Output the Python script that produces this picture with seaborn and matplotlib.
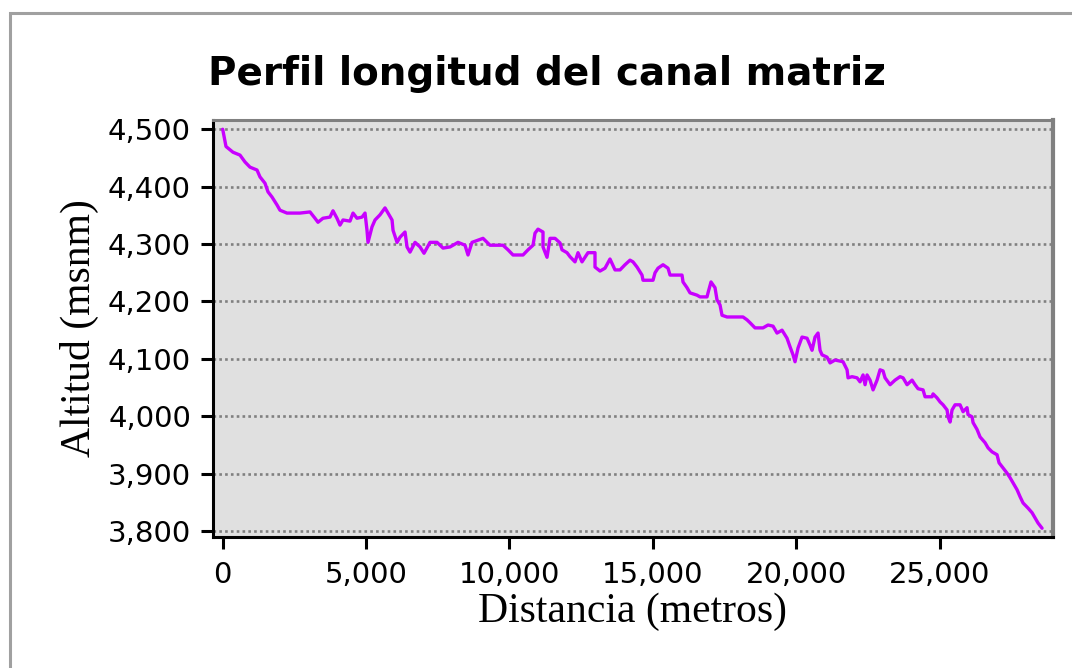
# Longitudinal profile of the main channel (altitude vs distance)
# -----------------------------------------------------------------------
import matplotlib
matplotlib.use('Agg')
import matplotlib.pyplot as plt
from matplotlib.patches import Rectangle
from matplotlib.ticker import FuncFormatter, MultipleLocator
import pandas as pd
import seaborn as sns

# -----------------------------------------------------------------------
# Data: distance (m) and altitude (m.s.n.m.)
dist = [0, 115, 359, 603, 778, 952, 1196, 1301, 1475, 1580,
        1719, 1896, 1998, 2241, 2695, 3044, 3218, 3323, 3497, 3741,
        3846, 3985, 4090, 4195, 4439, 4544, 4683, 4860, 4963, 5032,
        5067, 5207, 5312, 5486, 5660, 5765, 5905, 5940, 6079, 6184,
        6358, 6428, 6532, 6707, 6881, 7020, 7229, 7474, 7683, 7927,
        8206, 8450, 8554, 8694, 9077, 9321, 9774, 9949, 10123, 10472,
        10646, 10821, 10890, 10995, 11169, 11169, 11309, 11413, 11588, 11762,
        11832, 12006, 12111, 12285, 12390, 12529, 12738, 12982, 12982, 13157,
        13331, 13505, 13680, 13854, 14028, 14203, 14307, 14447, 14621, 14656,
        15005, 15075, 15179, 15354, 15528, 15598, 16016, 16051, 16191, 16295,
        16539, 16644, 16888, 16923, 17027, 17167, 17236, 17341, 17411, 17585,
        18143, 18283, 18387, 18562, 18841, 19015, 19190, 19329, 19504, 19678,
        19783, 19888, 19957, 20062, 20201, 20376, 20480, 20550, 20655, 20759,
        20829, 20899, 21073, 21178, 21352, 21631, 21771, 21806, 21945, 22120,
        22224, 22329, 22399, 22469, 22573, 22678, 22817, 22922, 23026, 23096,
        23271, 23445, 23619, 23724, 23863, 24038, 24142, 24247, 24421, 24491,
        24735, 24770, 24909, 25014, 25118, 25258, 25293, 25363, 25432, 25537,
        25711, 25816, 25955, 25990, 26130, 26165, 26304, 26409, 26583, 26688,
        26827, 27001, 27071, 27211, 27350, 27455, 27559, 27699, 27803, 27908,
        28082, 28222, 28327, 28431, 28571]
alt = [4500, 4470, 4460, 4455, 4443, 4434, 4429, 4417, 4406, 4391,
       4382, 4368, 4359, 4354, 4354, 4356, 4345, 4338, 4345, 4347,
       4358, 4345, 4333, 4342, 4340, 4354, 4345, 4347, 4354, 4324,
       4303, 4330, 4342, 4351, 4363, 4354, 4342, 4324, 4303, 4312,
       4321, 4295, 4286, 4303, 4295, 4284, 4303, 4303, 4293, 4295,
       4303, 4298, 4281, 4303, 4310, 4298, 4298, 4290, 4281, 4281,
       4290, 4298, 4319, 4326, 4321, 4295, 4277, 4310, 4310, 4302,
       4290, 4285, 4278, 4269, 4285, 4269, 4285, 4285, 4260, 4253,
       4258, 4274, 4255, 4255, 4264, 4272, 4269, 4260, 4246, 4237,
       4237, 4250, 4258, 4264, 4258, 4246, 4246, 4234, 4224, 4215,
       4211, 4208, 4208, 4215, 4234, 4224, 4203, 4194, 4176, 4173,
       4173, 4168, 4163, 4154, 4154, 4159, 4157, 4145, 4150, 4136,
       4121, 4107, 4095, 4119, 4138, 4136, 4124, 4115, 4138, 4145,
       4115, 4107, 4103, 4093, 4098, 4095, 4081, 4067, 4069, 4067,
       4060, 4072, 4055, 4072, 4063, 4046, 4063, 4081, 4079, 4067,
       4055, 4063, 4069, 4067, 4055, 4063, 4055, 4048, 4046, 4034,
       4034, 4039, 4032, 4025, 4020, 4011, 3999, 3990, 4011, 4020,
       4020, 4008, 4015, 4003, 3999, 3989, 3977, 3964, 3954, 3945,
       3938, 3933, 3919, 3910, 3901, 3893, 3884, 3872, 3860, 3849,
       3840, 3832, 3823, 3814, 3805]

title = 'Perfil longitud del canal matriz'
x_label = 'Distancia (metros)'
y_label = 'Altitud (msnm)'

profile = pd.DataFrame({'Distancia': dist, 'Altitud': alt})

# -----------------------------------------------------------------------
# Canvas
sns.set_theme(style='white')
plt.rcParams['font.family'] = ['DejaVu Sans']
plt.rcParams['text.color'] = 'black'
plt.rcParams['axes.labelcolor'] = 'black'
fig = plt.figure(figsize=(10.72, 6.68), dpi=100)
fig.patch.set_facecolor('white')
ax = fig.add_axes([0.1984, 0.1961, 0.7839, 0.6243])
ax.set_facecolor('#e0e0e0')

# Profile line
sns.lineplot(data=profile, x='Distancia', y='Altitud',
             estimator=None, sort=False,
             color='#c800ff', linewidth=2.4, ax=ax)

ax.set_xlim(-349, 28953)
ax.set_ylim(3789.7, 4516.2)
ax.xaxis.set_major_locator(MultipleLocator(5000))
ax.yaxis.set_major_locator(MultipleLocator(100))
thousands = FuncFormatter(lambda v, pos: f'{v:,.0f}')
ax.xaxis.set_major_formatter(thousands)
ax.yaxis.set_major_formatter(thousands)

# Dotted horizontal grid
ax.yaxis.grid(True, color='#808080', linewidth=1.9,
              linestyle=(0, (1.0, 1.2)))
ax.xaxis.grid(False)
ax.set_axisbelow(True)

# Spines: black left/bottom, gray top/right
for side in ['left', 'bottom']:
    ax.spines[side].set_color('black')
    ax.spines[side].set_linewidth(2.2)
ax.spines['top'].set_color('#808080')
ax.spines['top'].set_linewidth(2.2)
ax.spines['right'].set_color('#808080')
ax.spines['right'].set_linewidth(3.0)

ax.tick_params(axis='both', which='major', direction='out',
               length=8.6, width=2.2, color='black',
               labelsize=21, labelcolor='black',
               bottom=True, left=True, top=False, right=False)
ax.tick_params(axis='y', pad=7)
ax.tick_params(axis='x', pad=9)

ax.set_xlabel(x_label, fontsize=30, family='Liberation Serif',
              color='black', labelpad=2)
ax.set_ylabel(y_label, fontsize=30, family='Liberation Serif',
              color='black', labelpad=6)

# Title centred on the whole chart
fig.text(0.51, 0.8728, title, ha='center', va='baseline', color='black',
         fontsize=28, fontweight='bold', family='DejaVu Sans')

# Outer gray frame (runs off the right and bottom edges)
fig.add_artist(Rectangle((0.0093, -0.05), 1.1, 1.0298,
                         transform=fig.transFigure, fill=False,
                         edgecolor='#a0a0a0', linewidth=2.2))

fig.savefig('out.png', dpi=100)
